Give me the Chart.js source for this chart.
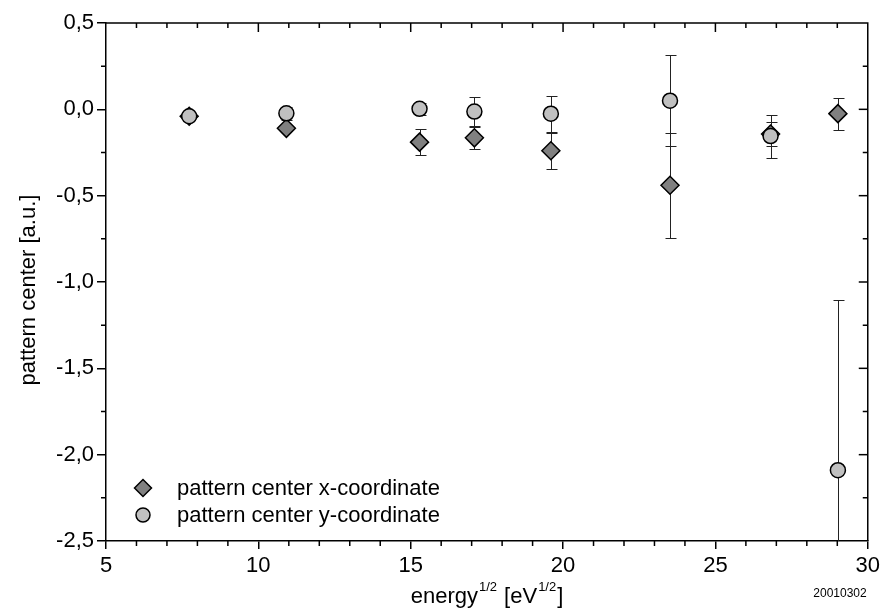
<!DOCTYPE html>
<html>
<head>
<meta charset="utf-8">
<script src="https://cdn.jsdelivr.net/npm/chart.js@4/dist/chart.umd.min.js"></script>
<style>
  html, body { margin: 0; padding: 0; background: #fff; }
</style>
</head>
<body>
<canvas id="myChart" width="884" height="615"></canvas>
<script>
// sqrt(energy) values and the two pattern center series
const energy = [7.73, 10.92, 15.29, 17.09, 19.6, 23.51, 26.81, 29.02];
const xCoord = [-0.04, -0.11, -0.19, -0.165, -0.24, -0.44, -0.143, -0.025];
const xErr   = [0.02, 0.015, 0.075, 0.063, 0.105, 0.303, 0.07, 0.092];
const yCoord = [-0.04, -0.023, 0.003, -0.013, -0.025, 0.05, -0.155, -2.09];
const yErr   = [0.02, 0.038, 0.035, 0.083, 0.105, 0.265, 0.125, 0.985];

const xTicks = [5, 10, 15, 20, 25, 30];
const yTicks = [0.5, 0.0, -0.5, -1.0, -1.5, -2.0, -2.5];
const seriesNames = ['pattern center x-coordinate', 'pattern center y-coordinate'];

const FONT = '"Liberation Sans", Arial, sans-serif';

const toPoints = (vals) => vals.map((v, i) => ({ x: energy[i], y: v }));

// error bars, ticks on all four sides, legend and titles
const decorations = {
    id: 'decorations',
    beforeDatasetsDraw(chart) {
        const { ctx, chartArea: a, scales: { x, y } } = chart;
        ctx.save();
        ctx.beginPath();
        ctx.rect(a.left, a.top, a.right - a.left, a.bottom - a.top);
        ctx.clip();
        ctx.strokeStyle = '#222';
        ctx.lineWidth = 1;
        [[xCoord, xErr], [yCoord, yErr]].forEach(([vals, errs]) => {
            vals.forEach((v, i) => {
                const px = Math.round(x.getPixelForValue(energy[i])) + 0.5;
                const top = Math.round(y.getPixelForValue(v + errs[i])) + 0.5;
                const bot = Math.round(y.getPixelForValue(v - errs[i])) + 0.5;
                ctx.beginPath();
                ctx.moveTo(px, top); ctx.lineTo(px, bot);
                ctx.moveTo(px - 5, top); ctx.lineTo(px + 6, top);
                ctx.moveTo(px - 5, bot); ctx.lineTo(px + 6, bot);
                ctx.stroke();
            });
        });
        ctx.restore();
    },
    afterDraw(chart) {
        const { ctx, chartArea: a, scales: { x, y } } = chart;
        ctx.save();
        ctx.strokeStyle = '#000';
        ctx.lineWidth = 1.5;

        // top and right frame lines
        ctx.beginPath();
        ctx.moveTo(a.left, a.top); ctx.lineTo(a.right, a.top); ctx.lineTo(a.right, a.bottom);
        ctx.stroke();

        // x ticks: minor outward at bottom, all inward at top
        for (let v = 6; v < 30; v++) {
            const px = x.getPixelForValue(v);
            const major = v % 5 === 0;
            ctx.beginPath();
            if (!major) { ctx.moveTo(px, a.bottom); ctx.lineTo(px, a.bottom + 5); }
            ctx.moveTo(px, a.top); ctx.lineTo(px, a.top + (major ? 9 : 5));
            ctx.stroke();
        }
        // y ticks: minor outward at left, all inward at right
        for (let k = 1; k < 12; k++) {
            const v = -2.5 + k * 0.25;
            const py = y.getPixelForValue(v);
            const major = k % 2 === 0;
            ctx.beginPath();
            if (!major) { ctx.moveTo(a.left, py); ctx.lineTo(a.left - 5, py); }
            ctx.moveTo(a.right, py); ctx.lineTo(a.right - (major ? 9 : 5), py);
            ctx.stroke();
        }

        // legend inside the plot
        ctx.font = '22px ' + FONT;
        ctx.textBaseline = 'middle';
        ctx.textAlign = 'left';
        chart.data.datasets.forEach((ds, i) => {
            const cy = 488 + i * 27;
            ctx.fillStyle = ds.backgroundColor;
            ctx.strokeStyle = ds.borderColor;
            ctx.lineWidth = 1.5;
            Chart.helpers.drawPoint(ctx, {
                pointStyle: ds.pointStyle,
                radius: i === 0 ? 8.5 : 7,
                borderWidth: 1.5,
                rotation: 0
            }, 143, cy);
            ctx.fillStyle = '#000';
            ctx.fillText(ds.label, 177, cy + 1);
        });

        // y axis title
        ctx.fillStyle = '#000';
        ctx.save();
        ctx.translate(35, 290);
        ctx.rotate(-Math.PI / 2);
        ctx.textAlign = 'center';
        ctx.textBaseline = 'alphabetic';
        ctx.font = '22px ' + FONT;
        ctx.fillText('pattern center [a.u.]', 0, 0);
        ctx.restore();

        // x axis title with superscripts
        const parts = [
            ['energy', false], ['1/2', true], [' [eV', false], ['1/2', true], [']', false]
        ];
        const big = '22px ' + FONT, small = '13px ' + FONT;
        let total = 0;
        parts.forEach(([t, sup]) => { ctx.font = sup ? small : big; total += ctx.measureText(t).width + (sup ? 2 : 0); });
        let cx = 487 - total / 2;
        const base = 603;
        ctx.textAlign = 'left';
        ctx.textBaseline = 'alphabetic';
        parts.forEach(([t, sup]) => {
            ctx.font = sup ? small : big;
            if (sup) cx += 1;
            ctx.fillText(t, cx, sup ? base - 12 : base);
            cx += ctx.measureText(t).width + (sup ? 1 : 0);
        });

        // file stamp
        ctx.font = '12px ' + FONT;
        ctx.textAlign = 'center';
        ctx.fillText('20010302', 840, 597);
        ctx.restore();
    }
};

const ctx = document.getElementById('myChart').getContext('2d');
const myChart = new Chart(ctx, {
    type: 'scatter',
    data: {
        datasets: [
            {
                label: seriesNames[0],
                data: toPoints(xCoord),
                pointStyle: 'rectRot',
                pointRadius: 9,
                pointHoverRadius: 9,
                backgroundColor: '#808080',
                borderColor: '#000',
                pointBorderWidth: 1.5,
                order: 2
            },
            {
                label: seriesNames[1],
                data: toPoints(yCoord),
                pointStyle: 'circle',
                pointRadius: 7.5,
                pointHoverRadius: 7.5,
                backgroundColor: '#c0c0c0',
                borderColor: '#000',
                pointBorderWidth: 1.5,
                order: 1
            }
        ]
    },
    options: {
        responsive: false,
        animation: false,
        events: [],
        layout: { padding: { top: 23, right: 15, left: 0, bottom: 0 } },
        plugins: {
            legend: { display: false },
            tooltip: { enabled: false }
        },
        scales: {
            x: {
                type: 'linear',
                min: 5,
                max: 30,
                afterBuildTicks: (scale) => { scale.ticks = xTicks.map(v => ({ value: v })); },
                afterFit: (scale) => { scale.height = 74; },
                grid: { display: true, drawOnChartArea: false, tickLength: 8, color: '#000', lineWidth: 1.5 },
                border: { display: true, color: '#000', width: 1.5 },
                ticks: {
                    padding: 4,
                    color: '#000',
                    font: { family: FONT, size: 22 },
                    maxRotation: 0,
                    callback: (v) => String(v)
                }
            },
            y: {
                type: 'linear',
                min: -2.5,
                max: 0.5,
                afterBuildTicks: (scale) => { scale.ticks = yTicks.map(v => ({ value: v })); },
                afterFit: (scale) => { scale.width = 106; },
                grid: { display: true, drawOnChartArea: false, tickLength: 9, color: '#000', lineWidth: 1.5 },
                border: { display: true, color: '#000', width: 1.5 },
                ticks: {
                    padding: 3,
                    color: '#000',
                    font: { family: FONT, size: 22 },
                    callback: (v) => Number(v).toFixed(1).replace('.', ',')
                }
            }
        }
    },
    plugins: [decorations]
});
</script>
</body>
</html>
